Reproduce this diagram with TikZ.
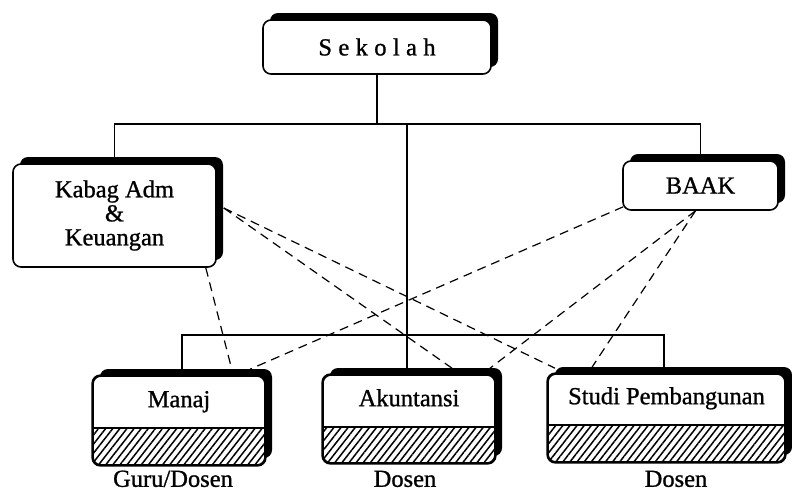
\documentclass[tikz,border=0pt]{standalone}
\usepackage{fontspec}
\setmainfont{Liberation Serif}
\usetikzlibrary{shadows,patterns.meta,calc}
\newcommand{\lblfont}{\fontsize{24.5}{24}\selectfont\addfontfeature{FakeBold=1}}
\begin{document}
\begin{tikzpicture}[x=1pt,y=-1pt,
  box/.style={draw, line width=1.6pt, rounded corners=8pt, fill=white,
    drop shadow={shadow xshift=7pt, shadow yshift=7pt, fill=black, opacity=1},
    inner sep=0pt, align=center, font=\lblfont},
  boxtext/.style={anchor=base, inner sep=0pt, font=\lblfont},
  sublabel/.style={anchor=base, inner sep=0pt, font=\lblfont},
  link/.style={line width=1.5pt},
  dashlink/.style={line width=1.2pt, dash pattern=on 9pt off 6pt},
  hatch/.style={pattern={Lines[angle=52,distance=5.6pt,line width=1.5pt]}}
]
\useasboundingbox (0,0) rectangle (792,491);

% top level
\node[box, minimum width=228pt, minimum height=54pt] (sek) at (377,47)
  {\addfontfeature{LetterSpace=26}Sekolah};
\node[box, minimum width=203pt, minimum height=103pt] (kab) at (114.5,215.5)
  {Kabag Adm\\\&\\Keuangan};
\node[box, minimum width=155pt, minimum height=49pt] (baak) at (700.5,185.5) {BAAK};

% bottom level boxes
\node[box, minimum width=172pt, minimum height=89pt] (man) at (179,420.5) {};
\node[box, minimum width=172pt, minimum height=88pt] (aku) at (409,419) {};
\node[box, minimum width=237pt, minimum height=88pt] (stu) at (666.5,418) {};

\foreach \b/\h in {man/38, aku/37, stu/38}{
  \begin{scope}
    \clip[rounded corners=8pt] (\b.south west) rectangle (\b.north east);
    \fill[hatch] ($(\b.south west)+(0,-\h)$) rectangle (\b.south east);
  \end{scope}
  \draw[line width=1.6pt] ($(\b.south west)+(0,-\h)$) -- ($(\b.south east)+(0,-\h)$);
  \draw[line width=1.6pt, rounded corners=8pt] (\b.south west) rectangle (\b.north east);
}

\node[boxtext] (mant) at ($(man.north)+(0,32)$) {Manaj};
\node[boxtext] (akut) at ($(aku.north)+(0,32)$) {Akuntansi};
\node[boxtext] (stut) at ($(stu.north)+(0,31)$) {Studi Pembangunan};

\node[sublabel] (manl) at ($(man.south)+(-6,21)$) {Guru/Dosen};
\node[sublabel] (akul) at ($(aku.south)+(-4,23)$) {Dosen};
\node[sublabel] (stul) at ($(stu.south)+(9.5,24)$) {Dosen};

% solid tree lines
\coordinate (top) at (377,124);
\coordinate (bot) at (407,335);
\draw[link] (sek.south) -- (top);
\draw[link] (kab.north) -- (kab.north |- top) -- (baak.north |- top) -- (baak.north);
\draw[link] ($(aku.north |- top)+(-2,0)$) -- ($(aku.north)+(-2,0)$);
\draw[link] ($(man.north)+(3,0)$) -- ($(man.north |- bot)+(3,0)$) -- ($(stu.north |- bot)+(-2.5,0)$) -- ($(stu.north)+(-2.5,0)$);

% dashed links
\coordinate (k1) at ($(kab.east)+(7,-7.5)$);
\coordinate (k2) at ($(kab.south east)+(-11,0)$);
\coordinate (b1) at ($(baak.south west)+(1,-4)$);
\coordinate (b2) at ($(baak.south)+(-5,0)$);
\draw[dashlink] (k1) -- ($(stu.north)+(-111.5,-5)$);
\draw[dashlink] (k1) -- ($(aku.north)+(43,-6)$);
\draw[dashlink] (k2) -- ($(man.north)+(53,-5)$);
\draw[dashlink] (b1) -- ($(man.north)+(71,-6)$);
\draw[dashlink] (b2) -- ($(aku.north)+(81,-6)$);
\draw[dashlink] (b2) -- ($(stu.north)+(-74.5,-6)$);
\end{tikzpicture}
\end{document}
